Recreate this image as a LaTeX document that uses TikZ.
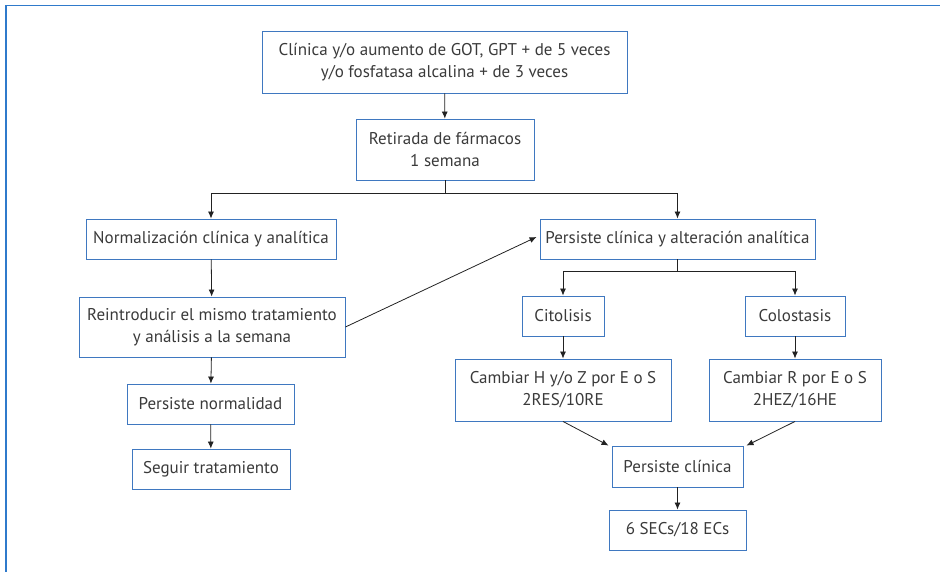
\documentclass[tikz,border=0pt]{standalone}
\usepackage{fontspec}
\setmainfont{PT Sans}
\usepackage{xcolor}
\usepackage{tikz}
\usetikzlibrary{arrows.meta,positioning,calc}
\definecolor{boxblue}{HTML}{3F78C0}
\definecolor{framblue}{HTML}{2F7ACB}
\definecolor{textgray}{HTML}{3A3A3A}
\definecolor{linegray}{HTML}{222222}

\begin{document}
\begin{tikzpicture}[x=1pt,y=-1pt,font=\fontsize{17}{22}\selectfont,
  box/.style={draw=boxblue,line width=0.9pt,text=textgray,align=center,inner sep=0pt},
  conn/.style={draw=linegray,line width=0.8pt},
  arr/.style={conn,-{Latex[length=7pt,width=6pt]}}]
\useasboundingbox (0,0) rectangle (940,572);
\draw[framblue,line width=1.4pt] (940,5.5) -- (6,5.5) -- (6,572);
% left and top column
\node[box,minimum width=365,minimum height=62] (sint) at (444.5,62) {Clínica y/o aumento de GOT, GPT + de 5 veces\\y/o fosfatasa alcalina + de 3 veces};
\node[box,minimum width=178,minimum height=61] (retir) at (445,149.5) {Retirada de fármacos\\1 semana};
\node[box,minimum width=250,minimum height=40] (norm) at (211,239) {Normalización clínica y analítica};
\node[box,minimum width=266,minimum height=60] (reint) at (212,327) {Reintroducir el mismo tratamiento\\y análisis a la semana};
\node[box,minimum width=167,minimum height=40] (persn) at (210.5,404) {Persiste normalidad};
\node[box,minimum width=158,minimum height=40] (seguir) at (211,469) {Seguir tratamiento};
% right column
\node[box,minimum width=275,minimum height=40] (persa) at (677.5,239) {Persiste clínica y alteración analítica};
\node[box,minimum width=82,minimum height=40] (cito) at (563,316) {Citolisis};
\node[box,minimum width=100,minimum height=40] (colo) at (795,316) {Colostasis};
\node[box,minimum width=216,minimum height=62] (camh) at (563,390) {Cambiar H y/o Z por E o S\\2RES/10RE};
\node[box,minimum width=172,minimum height=62] (camr) at (795,390) {Cambiar R por E o S\\2HEZ/16HE};
\node[box,minimum width=131,minimum height=41] (persc) at (677.5,466.5) {Persiste clínica};
\node[box,minimum width=137,minimum height=40] (secs) at (677.5,530) {6 SECs/18 ECs};
\coordinate (sp1) at (445,193);
\coordinate (sp2) at (677.5,271);
% connectors
\draw[arr] (sint) -- (retir);
\draw[conn] (retir) -- (sp1);
\draw[arr] (sp1) -| (norm);
\draw[arr] (sp1) -| (persa);
\draw[arr] (norm) -- (reint);
\draw[arr] (reint.east) -- ([xshift=-3pt,yshift=2pt]persa.west);
\draw[arr] (reint) -- (persn);
\draw[arr] (persn) -- (seguir);
\draw[conn] (persa) -- (sp2);
\draw[arr] (sp2) -| (cito);
\draw[arr] (sp2) -| (colo);
\draw[arr] (cito) -- (camh);
\draw[arr] (colo) -- (camr);
\draw[arr] (camh.south) -- ([xshift=-3pt]persc.north west);
\draw[arr] (camr.south) -- ([xshift=3pt]persc.north east);
\draw[arr] (persc) -- (secs);
\end{tikzpicture}
\end{document}
